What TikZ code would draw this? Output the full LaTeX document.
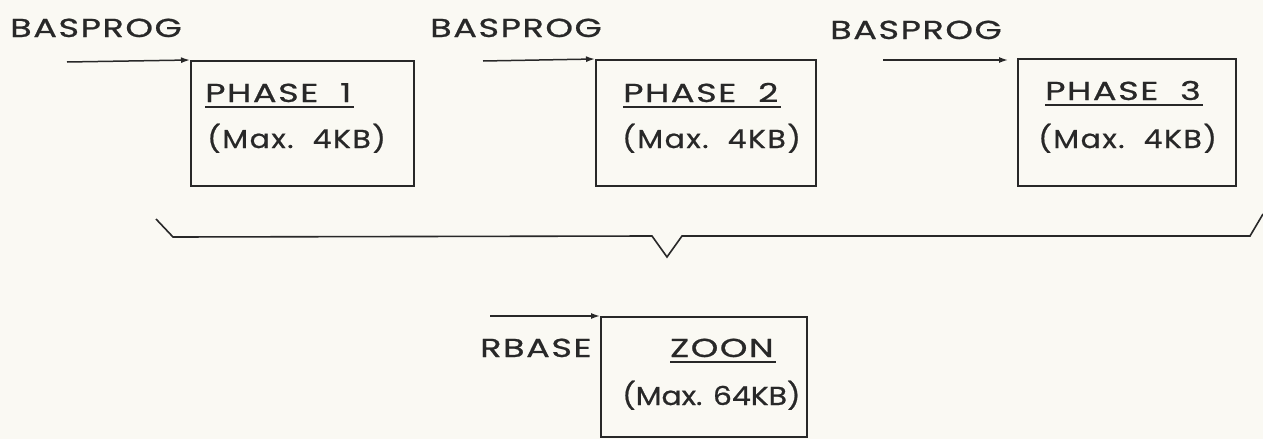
\documentclass[tikz,border=0pt]{standalone}
\usepackage{fontspec}
\setmainfont{Poppins}
\newfontfamily\capsfont[FakeStretch=1.35,LetterSpace=6,FakeBold=0.8]{Poppins}
\newfontfamily\maxfont[FakeStretch=1.15,LetterSpace=6,FakeBold=0.8]{Poppins}
\newfontfamily\maxtight[FakeStretch=1.15,LetterSpace=0,FakeBold=0.8]{Poppins}
\usetikzlibrary{arrows.meta}
\definecolor{ink}{RGB}{40,40,40}
\definecolor{paper}{RGB}{250,249,243}
\begin{document}
\begin{tikzpicture}[x=1pt,y=-1pt,
  box/.style={draw=ink,line width=1.6pt,rectangle,inner sep=0pt,anchor=north west},
  lbl/.style={inner sep=0pt,anchor=base west,text=ink,font=\capsfont\fontsize{26}{30}\selectfont},
  mlbl/.style={inner sep=0pt,anchor=base west,text=ink,font=\maxfont\fontsize{26}{30}\selectfont},
  arr/.style={draw=ink,line width=1.5pt,-{Latex[length=9pt,width=6pt]}},
  uline/.style={draw=ink,line width=1.6pt},
  bracket/.style={draw=ink,line width=1.6pt,line join=miter}]
\fill[paper] (0,0) rectangle (1263,439);
\useasboundingbox (0,0) rectangle (1263,439);

% boxes
\node[box,minimum width=223pt,minimum height=125pt] (ph1) at (190,60) {};
\node[box,minimum width=220pt,minimum height=126pt] (ph2) at (595,59) {};
\node[box,minimum width=218pt,minimum height=127pt] (ph3) at (1017,58) {};
\node[box,minimum width=206pt,minimum height=120pt] (zoon) at (600,316) {};

% top labels
\node[lbl] (b1) at (10,37) {BASPROG};
\node[lbl] (b2) at (430,37) {BASPROG};
\node[lbl] (b3) at (830,39) {BASPROG};

% box texts
\node[lbl] (t1) at (205,102) {PHASE\ \ 1};
\node[mlbl] (m1) at (207,148) {(Max.\ \ 4KB)};
\node[lbl] (t2) at (623,102) {PHASE\ \ 2};
\node[mlbl] (m2) at (622,148) {(Max.\ \ 4KB)};
\node[lbl] (t3) at (1045,100) {PHASE\ \ 3};
\node[mlbl] (m3) at (1038,148) {(Max.\ \ 4KB)};
\node[lbl] (rb) at (480,357) {RBASE};
\node[lbl] (tz) at (670,357) {ZOON};
\node[mlbl,font=\maxtight\fontsize{26}{30}\selectfont] (mz) at (622,405) {(Max. 64KB)};

% underlines
\foreach \t in {t1,t2,t3,tz}
  \draw[uline] ([yshift=-5pt]\t.base west) -- ([xshift=2pt,yshift=-5pt]\t.base east);

% arrows
\coordinate (s1) at (67,62);
\coordinate (s2) at (483,61);
\coordinate (s3) at (883,60);
\coordinate (s4) at (490,316);
\coordinate (e3) at (1008,60);
\draw[arr] (s1) -- (ph1.north west);
\draw[arr] (s2) -- (ph2.north west);
\draw[arr] (s3) -- (e3);
\draw[arr] (s4) -- (zoon.north west);

% bracket
\draw[bracket] (156,219) -- (173,237) -- (652,236) -- (667,257) -- (682,236) -- (1250,236) -- (1263,214);
\end{tikzpicture}
\end{document}
